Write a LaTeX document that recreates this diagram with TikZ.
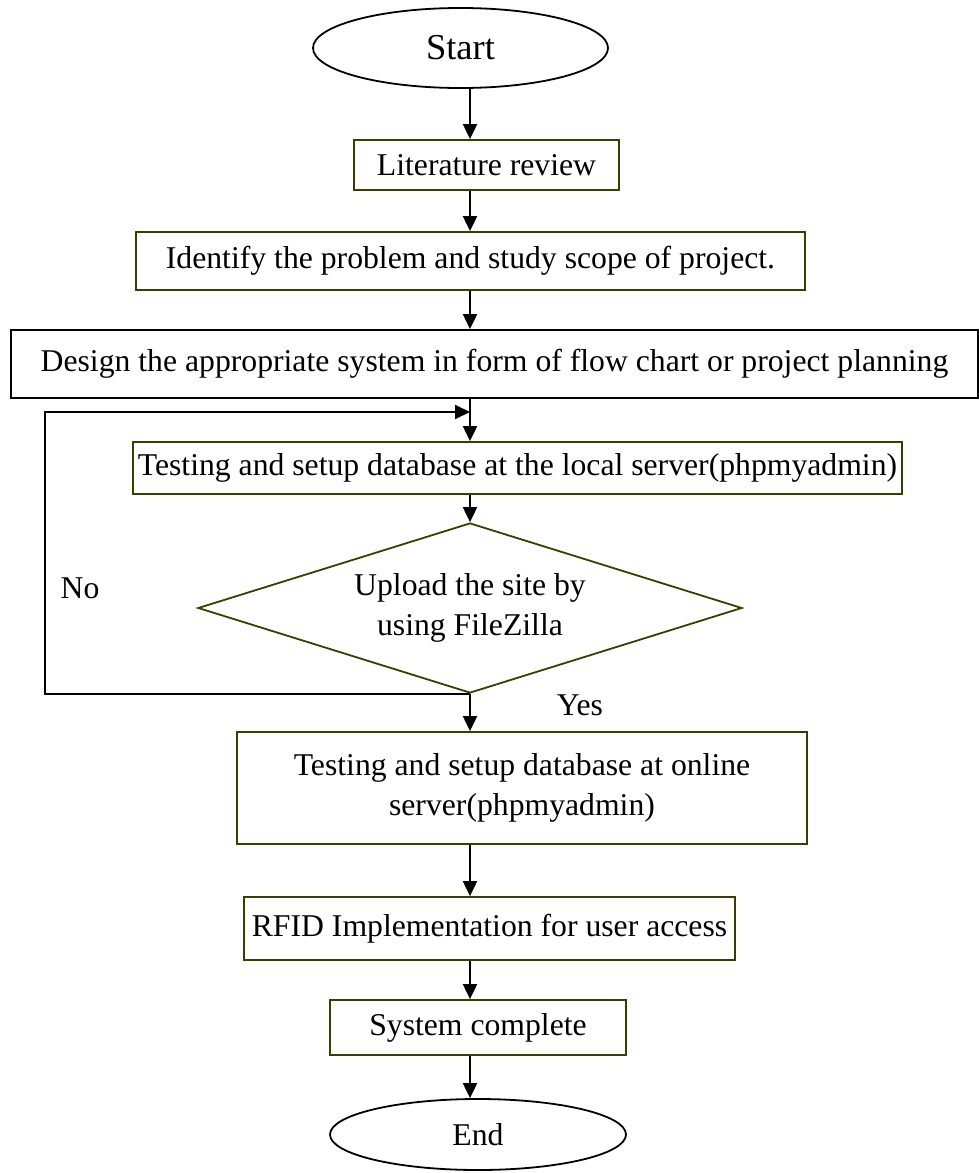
\documentclass[tikz,border=0pt]{standalone}
\usepackage{fontspec}
\setmainfont{Liberation Serif}
\usepackage{tikz}
\usetikzlibrary{arrows.meta, calc, positioning, shapes.geometric}
\definecolor{boxline}{RGB}{62,60,0}

\begin{document}
\begin{tikzpicture}[x=1pt, y=-1pt,
  font=\fontsize{31.7}{40}\selectfont,
  term/.style={ellipse, draw=black, line width=1.8pt, inner sep=0pt},
  procbox/.style={rectangle, draw=boxline, line width=1.8pt, inner sep=0pt, align=center},
  decide/.style={diamond, draw=boxline, line width=1.8pt, inner sep=0pt, aspect=3.2, align=center},
  flow/.style={-{Triangle[width=14pt,length=15pt]}, line width=2pt}]
\useasboundingbox (0,0) rectangle (979,1173);

% Main axis of the chart
\coordinate (axis) at (470,0);

% Start and steps
\node[term, minimum width=295, minimum height=80, font=\fontsize{36.5}{40}\selectfont] (start) at (460.5,48) {Start};
\node[procbox, minimum width=265, minimum height=50] (lit) at (486.5,165) {Literature review};
\node[procbox, minimum width=669, minimum height=58] (ident) at (470.5,261) {Identify the problem and study scope of project.};
\node[procbox, draw=black, minimum width=967, minimum height=68] (design) at (494.5,364) {Design the appropriate system in form of flow chart or project planning};
\node[procbox, minimum width=769, minimum height=52] (local) at (517.5,468) {Testing and setup database at the local server(phpmyadmin)};

% Decision
\node[decide, minimum width=544, minimum height=170] (dec) at (470,608) {Upload the site by\\using FileZilla};
\node (no) at (80,588) {No};
\node (yes) at (580,705) {Yes};

% Remaining steps
\node[procbox, minimum width=570, minimum height=112] (online) at (522,788) {Testing and setup database at online\\server(phpmyadmin)};
\node[procbox, minimum width=491, minimum height=63] (rfid) at (489.5,928.5) {RFID Implementation for user access};
\node[procbox, minimum width=296, minimum height=55] (sys) at (478,1027.5) {System complete};
\node[term, minimum width=296, minimum height=71] (end) at (478,1134.5) {End};

% Connectors
\draw[flow] (start.south -| axis) -- (lit.north -| axis);
\draw[flow] (lit.south -| axis) -- (ident.north -| axis);
\draw[flow] (ident.south -| axis) -- (design.north -| axis);
\draw[flow] (design.south -| axis) -- (local.north -| axis);
\draw[flow] (local.south -| axis) -- (dec.north);
\draw[flow] (dec.south) -- (online.north -| axis);
\draw[flow] (online.south -| axis) -- (rfid.north -| axis);
\draw[flow] (rfid.south -| axis) -- (sys.north -| axis);
\draw[flow] (sys.south -| axis) -- (end.north -| axis);

% No loop back
\coordinate (loopcorner) at (45,412);
\coordinate (join) at (470,412);
\draw[flow] (dec.south) -| (loopcorner) -- (join);
\end{tikzpicture}
\end{document}
